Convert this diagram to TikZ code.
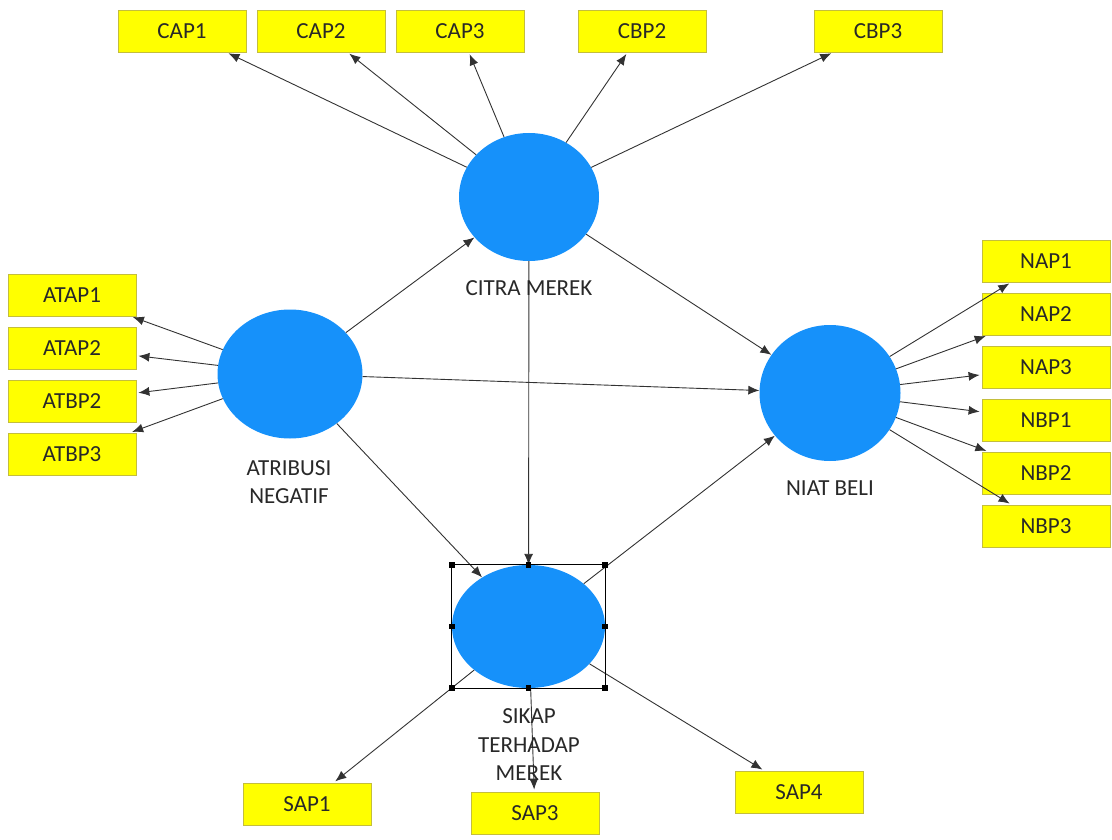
\documentclass[tikz,border=0pt]{standalone}
\usepackage{fontspec}
\setmainfont{Carlito}
\usetikzlibrary{arrows.meta,shapes.geometric}
\definecolor{latentblue}{RGB}{22,145,250}
\definecolor{itemyellow}{RGB}{255,255,0}
\definecolor{itemedge}{RGB}{196,190,60}
\definecolor{linegray}{RGB}{50,50,50}
\definecolor{textgray}{RGB}{40,40,40}
\begin{document}
\begin{tikzpicture}[
      x=1pt,y=-1pt,
      every node/.style={font=\fontsize{23}{28}\selectfont,text=textgray},
      latent/.style={ellipse,fill=latentblue,inner sep=0pt},
      item/.style={rectangle,fill=itemyellow,draw=itemedge,line width=0.8pt,
        minimum width=128pt,minimum height=42pt,inner sep=0pt},
      path/.style={draw=linegray,line width=0.9pt,
        -{Latex[length=11pt,width=9pt]},shorten >=2pt},
      handle/.style={fill=black,minimum size=5.5pt,inner sep=0pt},
      ]
      \useasboundingbox (0,0) rectangle (1112,840);
      
      % latent variables
      \node[latent,minimum width=140pt,minimum height=128pt] (cm) at (529,197) {};
      \node[latent,minimum width=145pt,minimum height=129pt] (an) at (290,374) {};
      \node[latent,minimum width=141pt,minimum height=136pt] (nb) at (830,393) {};
      \node[latent,minimum width=153pt,minimum height=123pt] (stm) at (528.5,626.5) {};
      
      % indicators
      \node[item] (cap1) at (182,31) {CAP1};
      \node[item] (cap2) at (321,31) {CAP2};
      \node[item] (cap3) at (460,31) {CAP3};
      \node[item] (cbp2) at (642,31) {CBP2};
      \node[item] (cbp3) at (878,31) {CBP3};
      
      \node[item] (atap1) at (72,295) {ATAP1};
      \node[item] (atap2) at (72,348) {ATAP2};
      \node[item] (atbp2) at (72,401) {ATBP2};
      \node[item] (atbp3) at (72,454) {ATBP3};
      
      \node[item] (nap1) at (1046,261) {NAP1};
      \node[item] (nap2) at (1046,314) {NAP2};
      \node[item] (nap3) at (1046,367) {NAP3};
      \node[item] (nbp1) at (1046,420) {NBP1};
      \node[item] (nbp2) at (1046,473) {NBP2};
      \node[item] (nbp3) at (1046,526) {NBP3};
      
      \node[item] (sap1) at (307,804) {SAP1};
      \node[item] (sap3) at (535,813) {SAP3};
      \node[item] (sap4) at (799,792) {SAP4};
      
      % outer loadings
      \foreach \i in {cap1,cap2,cap3,cbp2,cbp3}
        \draw[path] (cm) -- (\i);
      \foreach \i in {atap1,atap2,atbp2,atbp3}
        \draw[path] (an) -- (\i);
      \foreach \i in {nap1,nap2,nap3,nbp1,nbp2,nbp3}
        \draw[path] (nb) -- (\i);
      \foreach \i in {sap1,sap3,sap4}
        \draw[path] (stm) -- (\i);
      
      % inner model
      \draw[path,shorten >=0pt] (an) -- (cm);
      \draw[path,shorten >=0pt] (an) -- (nb);
      \draw[path,shorten >=0pt] (an) -- (stm);
      \draw[path,shorten >=0pt] (cm) -- (nb);
      \draw[path,shorten >=0pt] (cm) -- (stm);
      \draw[path,shorten >=0pt] (stm) -- (nb);
      
      % selection frame
      \draw[line width=0.9pt] (stm.west |- stm.north) rectangle (stm.east |- stm.south);
      \foreach \a in {north,south,east,west}
        \node[handle] (h-\a) at (stm.\a) {};
      \node[handle] (h-nw) at (stm.west |- stm.north) {};
      \node[handle] (h-ne) at (stm.east |- stm.north) {};
      \node[handle] (h-sw) at (stm.west |- stm.south) {};
      \node[handle] (h-se) at (stm.east |- stm.south) {};
      
      % labels
      \node (cm-lbl) at (529,288) {CITRA MEREK};
      \node[align=center] (an-lbl) at (289,482) {ATRIBUSI\\NEGATIF};
      \node (nb-lbl) at (830,488) {NIAT BELI};
      \node[align=center,font=\fontsize{23}{28.5}\selectfont] (stm-lbl) at (529,745) {SIKAP\\TERHADAP\\MEREK};
      \end{tikzpicture}
\end{document}
